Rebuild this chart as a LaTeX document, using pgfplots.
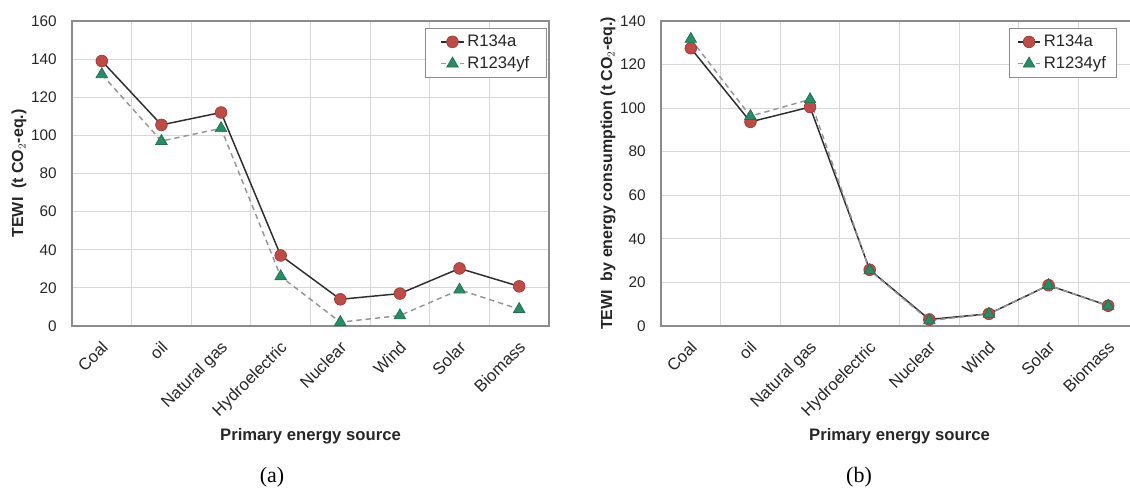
\documentclass[border=0pt]{standalone}
\usepackage{fontspec}
\setmainfont{Liberation Sans}
\newfontfamily\seriffont{Liberation Serif}
\usepackage{pgfplots}
\pgfplotsset{compat=1.18}

\definecolor{rcirc}{RGB}{190,75,72}
\definecolor{rline}{RGB}{45,45,45}
\definecolor{gtri}{RGB}{40,140,100}
\definecolor{gline}{RGB}{150,150,150}
\definecolor{gridc}{RGB}{215,215,215}
\definecolor{axc}{RGB}{140,140,140}

\pgfplotsset{
  energy/.style={
    scale only axis,
    width=357.75pt, height=228.75pt,
    anchor=south west,
    xmin=-0.5, xmax=7.5, ymin=0,
    xtick={0,...,7},
    xticklabels={Coal,oil,Natural gas,Hydroelectric,Nuclear,Wind,Solar,Biomass},
    minor xtick={0.5,1.5,...,6.5},
    xminorgrids=true, ymajorgrids=true,
    grid style={gridc, line width=0.6pt},
    minor grid style={gridc, line width=0.6pt},
    axis line style={axc, line width=0.8pt},
    major tick length=0pt, minor tick length=0pt,
    tick label style={font=\fontsize{11.5}{13}\selectfont, text=black!85},
    /pgf/number format/assume math mode=true,
    xticklabel style={font=\fontsize{12.5}{14}\selectfont,
                      xshift=-1pt, yshift=-5.5pt, rotate=45, anchor=north east},
    yticklabel style={xshift=-8pt},
    xlabel={Primary energy source},
    xlabel style={font=\fontsize{12.5}{14}\selectfont\bfseries, text=black!85,
                  at={(axis description cs:0.5,0)}, anchor=center, yshift=-83pt},
    ylabel style={font=\fontsize{12}{14}\selectfont\bfseries, text=black!85,
                  at={(axis description cs:-0.111,0.5)}, anchor=center},
    legend style={anchor=north east,
                  draw=axc, line width=0.6pt, fill=white,
                  font=\fontsize{12.5}{14}\selectfont, text=black!85,
                  row sep=2pt, inner xsep=11pt, inner ysep=3pt,
                  /tikz/every even column/.append style={column sep=2pt}},
    legend cell align=left,
  },
  r134/.style={rline, line width=1.1pt, mark=*, mark size=4.4pt,
               mark options={solid, fill=rcirc, draw=rcirc!80!black, line width=0.5pt}},
  r1234/.style={gline, dashed, line width=1.1pt, mark=triangle*, mark size=5pt,
               dash pattern=on 4pt off 3pt,
               mark options={solid, fill=gtri, draw=gtri!80!black, line width=0.5pt}},
}

\begin{document}
\begin{tikzpicture}
% (a) TEWI
\begin{axis}[energy, at={(54pt,126.75pt)}, ymax=160, ytick={0,20,...,160},
  legend style={at={(axis description cs:0.996,0.977)}},
  ylabel={TEWI\ \ (t CO$_2$-eq.)}]
\addplot[r134] coordinates {(0,139) (1,105.5) (2,112) (3,37) (4,14) (5,17) (6,30.2) (7,20.8)};
\addlegendentry{R134a}
\addplot[r1234] coordinates {(0,132) (1,97) (2,103.7) (3,26) (4,2) (5,5.5) (6,19) (7,8.8)};
\addlegendentry{R1234yf}
\end{axis}

% (b) TEWI by energy consumption
\begin{axis}[energy, at={(495.75pt,126.75pt)}, ymax=140, ytick={0,20,...,140},
  legend style={at={(axis description cs:0.956,0.977)}, inner xsep=6pt},
  ylabel={TEWI\ \ by energy consumption (t CO$_2$-eq.)}]
\addplot[r134] coordinates {(0,127.5) (1,93.7) (2,100.5) (3,25.8) (4,3) (5,5.6) (6,18.7) (7,9.3)};
\addlegendentry{R134a}
\addplot[r1234] coordinates {(0,131.7) (1,96.3) (2,104) (3,25.5) (4,2.5) (5,5.5) (6,18.7) (7,9.2)};
\addlegendentry{R1234yf}
\end{axis}

\node[font=\seriffont\fontsize{16.5}{18}\selectfont] at (204pt,13pt) {(a)};
\node[font=\seriffont\fontsize{16.5}{18}\selectfont] at (644.25pt,13pt) {(b)};

\pgfresetboundingbox
\path[use as bounding box] (0,0) rectangle (847.5pt,371.25pt);
\end{tikzpicture}
\end{document}
